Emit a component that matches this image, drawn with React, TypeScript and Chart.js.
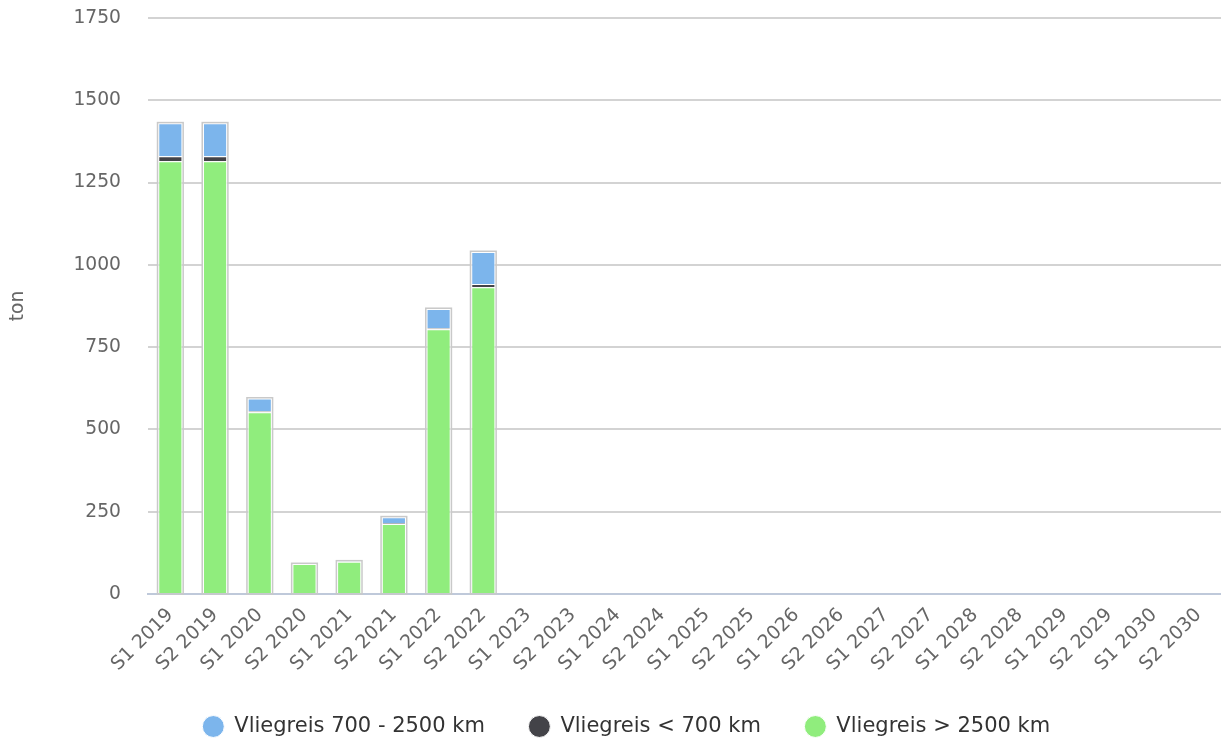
import React, { useEffect, useRef } from "react";
import { Chart, registerables } from "chart.js";

Chart.register(...registerables);

const categories = [
  "S1 2019", "S2 2019", "S1 2020", "S2 2020", "S1 2021", "S2 2021",
  "S1 2022", "S2 2022", "S1 2023", "S2 2023", "S1 2024", "S2 2024",
  "S1 2025", "S2 2025", "S1 2026", "S2 2026", "S1 2027", "S2 2027",
  "S1 2028", "S2 2028", "S1 2029", "S2 2029", "S1 2030", "S2 2030",
];

const flightLong: (number | null)[] = [1315, 1315, 552, 91, 98, 213, 804, 932, null, null, null, null, null, null, null, null, null, null, null, null, null, null, null, null];
const flightShort: (number | null)[] = [15, 15, 4, 0, 0, 2, 4, 10, null, null, null, null, null, null, null, null, null, null, null, null, null, null, null, null];
const flightMid: (number | null)[] = [100, 100, 38, 0, 1, 18, 58, 97, null, null, null, null, null, null, null, null, null, null, null, null, null, null, null, null];

const yTicks = [0, 250, 500, 750, 1000, 1250, 1500, 1750];

const FONT = "'DejaVu Sans', sans-serif";
const LEGEND_HEIGHT = 68;
const LEGEND_SHIFT = 16;

const outlinePlugin = {
  id: "stackOutline",
  afterInit(chart: any) {
    const legend = chart.legend;
    if (legend && !legend.__patched) {
      const origFit = legend.fit.bind(legend);
      legend.fit = function () {
        origFit();
        this.height = LEGEND_HEIGHT;
      };
      const origDraw = legend.draw.bind(legend);
      legend.draw = function () {
        const ctx = this.ctx;
        ctx.save();
        ctx.translate(LEGEND_SHIFT, 0);
        origDraw();
        ctx.restore();
      };
      legend.__patched = true;
    }
  },
  afterDatasetsDraw(chart: any) {
    const ctx = chart.ctx;
    const y = chart.scales.y;
    const meta0 = chart.getDatasetMeta(0);
    categories.forEach((_, i) => {
      const total = (flightLong[i] || 0) + (flightShort[i] || 0) + (flightMid[i] || 0);
      if (!total) return;
      const bar = meta0.data[i];
      if (!bar) return;
      const x = bar.x;
      const w = bar.width;
      const top = y.getPixelForValue(total);
      const bottom = y.getPixelForValue(0);
      ctx.save();
      ctx.strokeStyle = "#c9c9c9";
      ctx.lineWidth = 1.5;
      ctx.strokeRect(x - w / 2 - 0.75, top - 0.75, w + 1.5, bottom - top + 0.75);
      ctx.restore();
    });
  },
};

export default function App() {
  const ref = useRef<HTMLCanvasElement | null>(null);

  useEffect(() => {
    if (!ref.current) return;
    const chart = new Chart(ref.current, {
      type: "bar",
      data: {
        labels: categories,
        datasets: [
          {
            label: "Vliegreis > 2500 km",
            data: flightLong,
            backgroundColor: "#90ed7d",
            borderColor: "#ffffff",
            borderWidth: 1,
          },
          {
            label: "Vliegreis < 700 km",
            data: flightShort,
            backgroundColor: "#434348",
            borderColor: "#ffffff",
            borderWidth: 1,
          },
          {
            label: "Vliegreis 700 - 2500 km",
            data: flightMid,
            backgroundColor: "#7cb5ec",
            borderColor: "#ffffff",
            borderWidth: 1,
          },
        ],
      },
      options: {
        animation: false,
        responsive: true,
        maintainAspectRatio: false,
        layout: { padding: { top: 18, right: 0, left: 0, bottom: 0 } },
        datasets: {
          bar: { barPercentage: 0.54, categoryPercentage: 1 },
        },
        plugins: {
          tooltip: { enabled: false },
          legend: {
            position: "bottom",
            reverse: true,
            labels: {
              usePointStyle: true,
              pointStyle: "circle",
              boxWidth: 22,
              boxHeight: 15.5,
              padding: 44,
              color: "#333333",
              font: { family: FONT, size: 21 },
            },
          },
        },
        scales: {
          x: {
            stacked: true,
            grid: { display: false },
            border: { display: true, color: "#bfc9da", width: 2 },
            ticks: {
              color: "#666666",
              font: { family: FONT, size: 19 },
              maxRotation: 45,
              minRotation: 45,
              autoSkip: false,
              padding: 2,
            },
            afterFit(scale: any) {
              scale.height = 740 - 594 - LEGEND_HEIGHT;
            },
          },
          y: {
            stacked: true,
            min: 0,
            max: 1750,
            afterBuildTicks(scale: any) {
              scale.ticks = yTicks.map((v) => ({ value: v }));
            },
            grid: { color: "#d3d3d3", lineWidth: 2, drawTicks: false },
            border: { display: false },
            ticks: {
              color: "#666666",
              font: { family: FONT, size: 18.7 },
              padding: 27,
              callback: (v: any) => String(v),
            },
            title: {
              display: true,
              text: "ton",
              color: "#666666",
              font: { family: FONT, size: 18.7 },
              padding: { top: 7, bottom: 0 },
            },
            afterFit(scale: any) {
              scale.width = 148;
              scale.paddingTop = 0;
              scale.paddingBottom = 0;
            },
          },
        },
      },
      plugins: [outlinePlugin],
    });
    return () => chart.destroy();
  }, []);

  return (
    <div style={{ position: "absolute", left: 0, top: 0, width: 1221, height: 740, background: "#fff" }}>
      <canvas ref={ref} />
    </div>
  );
}
